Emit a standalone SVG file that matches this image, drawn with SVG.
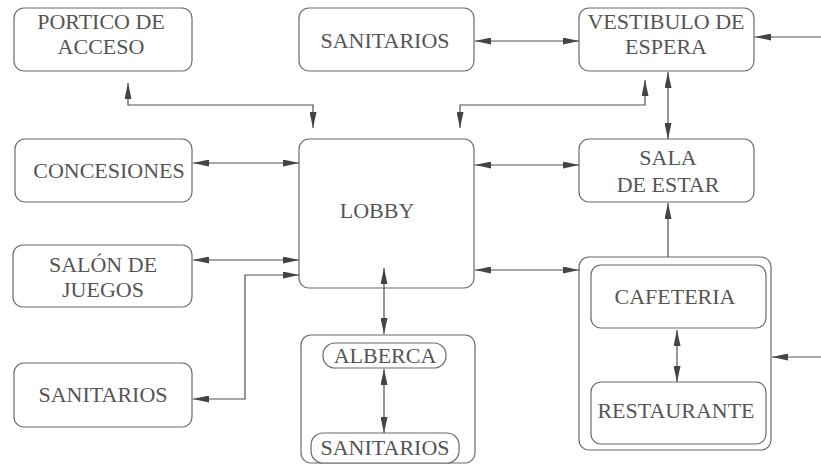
<svg xmlns="http://www.w3.org/2000/svg" width="821" height="466" viewBox="0 0 821 466">
<style>
.box{fill:#fff;stroke:#6a6a6a;stroke-width:1.2}
.t{font-family:'Liberation Serif','Times New Roman',serif;font-size:22px;fill:#555;text-anchor:middle}
.c{fill:none;stroke:#505050;stroke-width:1.2}
</style>
<defs>
<marker id="ah" viewBox="0 0 16 7" refX="16" refY="3.5" markerWidth="16" markerHeight="7" markerUnits="userSpaceOnUse" orient="auto-start-reverse">
<path d="M0,0 L16,3.5 L0,7 z" fill="#444"/>
</marker>
</defs>
<rect width="821" height="466" fill="#fff"/>
<g id="portico"><rect class="box" x="14" y="8" width="178" height="63" rx="10"/><text class="t" x="101" y="29">PORTICO DE</text><text class="t" x="101" y="54">ACCESO</text></g>
<g id="sanitarios-top"><rect class="box" x="299" y="8" width="175" height="63" rx="10"/><text class="t" x="385" y="48">SANITARIOS</text></g>
<g id="vestibulo"><rect class="box" x="579" y="8" width="175" height="63" rx="10"/><text class="t" x="666" y="29">VESTIBULO DE</text><text class="t" x="666" y="54">ESPERA</text></g>
<g id="concesiones"><rect class="box" x="15" y="139" width="177" height="63" rx="10"/><text class="t" x="109" y="178">CONCESIONES</text></g>
<g id="lobby"><rect class="box" x="299" y="139" width="175" height="149" rx="10"/><text class="t" x="377" y="218">LOBBY</text></g>
<g id="sala"><rect class="box" x="579" y="139" width="175" height="63" rx="10"/><text class="t" x="668" y="165">SALA</text><text class="t" x="668" y="192">DE ESTAR</text></g>
<g id="salon"><rect class="box" x="13" y="245" width="179" height="62" rx="10"/><text class="t" x="103" y="272">SALÓN DE</text><text class="t" x="103" y="297">JUEGOS</text></g>
<g id="sanitarios-left"><rect class="box" x="14" y="363" width="178" height="64" rx="10"/><text class="t" x="103" y="402">SANITARIOS</text></g>
<g id="alberca-group"><rect class="box" x="301" y="335" width="174" height="128" rx="10"/>
<g id="alberca"><rect class="box" x="323" y="343" width="123" height="25" rx="12"/><text class="t" x="385" y="363">ALBERCA</text></g>
<g id="sanitarios-alberca"><rect class="box" x="311" y="433" width="148" height="30" rx="12"/><text class="t" x="385" y="455">SANITARIOS</text></g>
</g>
<g id="cafe-group"><rect class="box" x="579" y="257" width="192" height="193" rx="10"/>
<g id="cafeteria"><rect class="box" x="591" y="265" width="175" height="63" rx="10"/><text class="t" x="675" y="304">CAFETERIA</text></g>
<g id="restaurante"><rect class="box" x="591" y="382" width="175" height="62" rx="10"/><text class="t" x="676" y="418">RESTAURANTE</text></g>
</g>
<g id="connectors">
<path class="c" d="M128,83 V105 H313 V128" marker-start="url(#ah)" marker-end="url(#ah)"/>
<path class="c" d="M475,41 H579" marker-start="url(#ah)" marker-end="url(#ah)"/>
<path class="c" d="M821,37 H755" marker-end="url(#ah)"/>
<path class="c" d="M645,80 V105 H460 V128" marker-start="url(#ah)" marker-end="url(#ah)"/>
<path class="c" d="M668,72 V139" marker-start="url(#ah)" marker-end="url(#ah)"/>
<path class="c" d="M193,163 H299" marker-start="url(#ah)" marker-end="url(#ah)"/>
<path class="c" d="M475,165 H579" marker-start="url(#ah)" marker-end="url(#ah)"/>
<path class="c" d="M193,260 H299" marker-start="url(#ah)" marker-end="url(#ah)"/>
<path class="c" d="M193,399 H245 V275 H299" marker-start="url(#ah)" marker-end="url(#ah)"/>
<path class="c" d="M475,270 H579" marker-start="url(#ah)" marker-end="url(#ah)"/>
<path class="c" d="M668,257 V203" marker-end="url(#ah)"/>
<path class="c" d="M384,268 V334" marker-start="url(#ah)" marker-end="url(#ah)"/>
<path class="c" d="M384,369 V433" marker-start="url(#ah)" marker-end="url(#ah)"/>
<path class="c" d="M677,330 V382" marker-start="url(#ah)" marker-end="url(#ah)"/>
<path class="c" d="M821,357 H772" marker-end="url(#ah)"/>
</g>
</svg>
